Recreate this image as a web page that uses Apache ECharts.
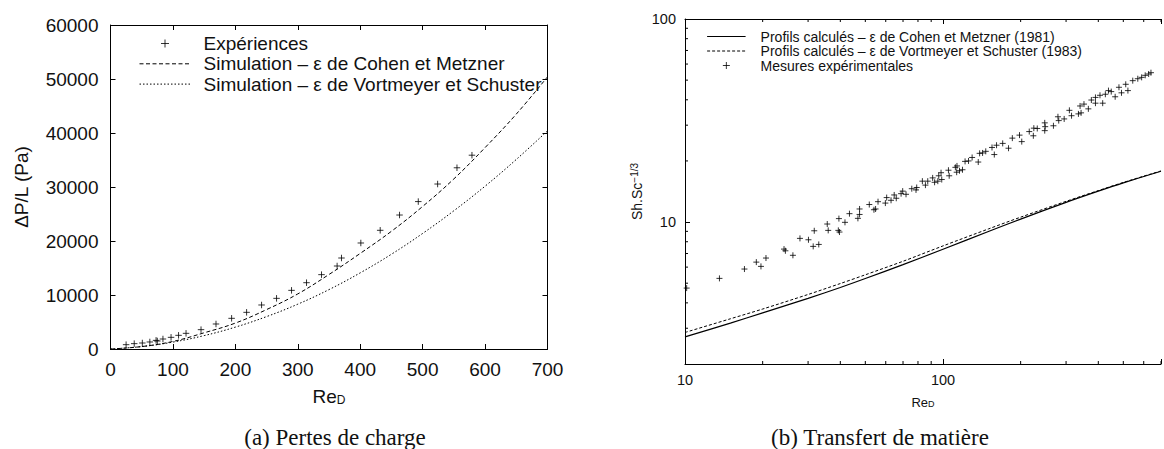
<!DOCTYPE html>
<html>
<head>
<meta charset="utf-8">
<script src="https://cdn.jsdelivr.net/npm/echarts@6/dist/echarts.min.js"></script>
<style>
html,body{margin:0;padding:0;background:#fff;}
#c{width:1164px;height:449px;}
</style>
</head>
<body>
<div id="c"></div>
<script>
// ---------- (a) Pertes de charge ----------
const pdRe    = [0, 50, 100, 150, 200, 250, 300, 350, 400, 450, 500, 550, 600, 650, 700];
const pdCohen = [0, 450, 1400, 3000, 4800, 7300, 10200, 13800, 17700, 21800, 26400, 31500, 37300, 43500, 50400];
const pdVort  = [0, 450, 1280, 2480, 4050, 6000, 8300, 11000, 14100, 17550, 21400, 25600, 30150, 35100, 40400];
const expRe = [25, 38, 51, 63, 73, 75, 84, 97, 109, 121, 145, 169, 194, 218, 242, 266, 290, 314, 338, 363, 370, 401, 432, 463, 493, 524, 555, 579];
const expDP = [800, 990, 1110, 1300, 1600, 1480, 1850, 2160, 2530, 2900, 3580, 4630, 5680, 6790, 8150, 9380, 10860, 12280, 13770, 15370, 16850, 19630, 21980, 24810, 27300, 30550, 33560, 35890];

// ---------- (b) Transfert de matière ----------
const mtRe    = [10, 15, 20, 30, 40, 50, 70, 100, 150, 200, 300, 400, 500, 700];
const mtCohen = [2.72, 3.18, 3.57, 4.21, 4.76, 5.27, 6.17, 7.35, 8.98, 10.34, 12.51, 14.2, 15.6, 17.8];
const mtVort  = [2.86, 3.34, 3.73, 4.40, 4.98, 5.50, 6.41, 7.63, 9.25, 10.57, 12.65, 14.29, 15.67, 17.86];
const measRe = [10.15, 13.6, 17.0, 18.9, 19.7, 20.6, 24.2, 24.5, 26.2, 27.9, 30.1, 31.4, 33.0, 31.7, 35.6, 35.9, 39.3, 39.7, 39.5, 41.7, 43.4,
  46.8, 47.5, 47.5, 51.8, 54.0, 54.8, 56.0, 59.8, 60.5, 62.9, 64.7, 65.9, 68.8, 69.8, 71.9, 75.7, 78.6, 79.1, 83.2, 85.5, 87.3, 91.2, 92.8, 95.5, 96.3, 98.3, 98.9,
  105, 105.7, 111.7, 113.3, 113.0, 115.9, 119, 121.8, 125.6, 129.7, 137, 138.7, 142.4, 146.5, 154.9, 158.1, 161.3, 170.4, 179.5,
  185.7, 198, 202, 216, 225, 224, 232, 248, 249, 248, 268, 279, 281, 295, 309, 315, 335, 343, 340, 352, 366, 376, 390, 390, 406, 416, 426, 438, 449, 465, 481, 492, 511, 521, 544, 569, 589, 608, 627, 640];
const measSh = [4.73, 5.28, 5.87, 6.35, 6.05, 6.65, 7.36, 7.22, 6.86, 8.31, 8.18, 7.59, 7.76, 9.06, 9.78, 9.10, 9.10, 8.93, 10.4, 9.97, 11.0,
  10.43, 10.9, 11.6, 12.2, 11.5, 11.6, 12.6, 12.4, 13.2, 12.8, 13.6, 13.1, 13.8, 14.2, 13.7, 14.6, 14.4, 14.8, 15.9, 15.2, 15.9, 16.5, 15.7, 15.9, 16.9, 17.5, 16.2,
  18.0, 16.9, 18.6, 18.9, 17.6, 17.9, 18.1, 19.9, 20.0, 20.8, 19.75, 21.8, 21.9, 22.3, 23.3, 21.5, 23.9, 24.4, 23.1,
  25.9, 26.8, 24.9, 27.9, 29.0, 26.6, 28.9, 30.8, 29.5, 28.2, 29.8, 33.0, 31.6, 32.2, 35.5, 33.4, 34.1, 34.5, 37.3, 38.1, 36.1, 39.9, 38.5, 41.1, 42.1, 38.5, 42.6, 44.4, 43.9, 41.4, 46.1, 43.3, 47.7, 44.4, 49.7, 50.8, 51.6, 52.8, 53.6, 54.4];

// tick values
const decadeLabels = [10, 100];
const minorTicksX = [20, 30, 40, 50, 60, 70, 80, 90, 200, 300, 400, 500, 600, 700];
const minorTicksY = [3, 4, 5, 6, 7, 8, 9, 20, 30, 40, 50, 60, 70, 80, 90];

const LEG_A = ['Expériences', 'Simulation – ε de Cohen et Metzner', 'Simulation – ε de Vortmeyer et Schuster'];
const LEG_B = ['Profils calculés – ε de Cohen et Metzner (1981)', 'Profils calculés – ε de Vortmeyer et Schuster (1983)', 'Mesures expérimentales'];

const FONT = 'Liberation Sans';
const INK = '#000';
const PLUS = 'path://M0,-5L0,5M-5,0L5,0';
const NOSYM = {color: 'rgba(0,0,0,0)', borderColor: 'rgba(0,0,0,0)', borderWidth: 0};
const zip = (a, b) => a.map((v, i) => [v, b[i]]);
const decFmt = v => {
  const r = Math.round(v);
  return (Math.abs(v - r) < 1e-6 && decadeLabels.indexOf(r) >= 0) ? String(r) : '';
};

const chart = echarts.init(document.getElementById('c'), null, {renderer: 'svg'});

const axA = (pos, show) => ({
  gridIndex: 0, type: 'value', position: pos,
  axisLine: {show: true, onZero: false, lineStyle: {color: INK, width: 1}},
  axisTick: {show: true, inside: true, length: 5, lineStyle: {color: INK, width: 1}},
  axisLabel: {show: show, fontSize: 19, fontFamily: FONT, color: '#111', formatter: v => String(v)},
  splitLine: {show: false}
});
const axB = (pos, show) => ({
  gridIndex: 1, type: 'log', logBase: 10, position: pos,
  axisLine: {show: true, onZero: false, lineStyle: {color: INK, width: 1}},
  axisTick: {show: true, inside: true, length: 5, lineStyle: {color: INK, width: 1}},
  axisLabel: {show: show, fontSize: 14.5, fontFamily: FONT, color: '#111', formatter: decFmt, showMinLabel: true, showMaxLabel: true},
  splitLine: {show: false}, minorTick: {show: false}
});

const xa0 = Object.assign(axA('bottom', true), {min: 0, max: 700, interval: 100,
  name: '{b|Re}{s|D}', nameLocation: 'middle', nameGap: 37,
  nameTextStyle: {rich: {
    b: {fontSize: 19, fontFamily: FONT, color: '#111', lineHeight: 19, verticalAlign: 'top'},
    s: {fontSize: 12, fontFamily: FONT, color: '#111', lineHeight: 12, padding: [10, 0, 0, 0], verticalAlign: 'bottom'}}}
});
xa0.axisLabel.margin = 11;
const xa1 = Object.assign(axA('top', false), {min: 0, max: 700, interval: 100});
const ya0 = Object.assign(axA('left', true), {min: 0, max: 60000, interval: 10000,
  name: 'ΔP/L (Pa)', nameLocation: 'middle', nameGap: 80, nameRotate: 90,
  nameTextStyle: {fontSize: 19, fontFamily: FONT, color: '#111'}});
ya0.axisLabel.margin = 12;
const ya1 = Object.assign(axA('right', false), {min: 0, max: 60000, interval: 10000});

const xb0 = Object.assign(axB('bottom', true), {min: 10, max: 700,
  name: '{b|Re}{s|D}', nameLocation: 'middle', nameGap: 28,
  nameTextStyle: {rich: {
    b: {fontSize: 13, fontFamily: FONT, color: '#111', lineHeight: 13, verticalAlign: 'top'},
    s: {fontSize: 9, fontFamily: FONT, color: '#111', lineHeight: 9, padding: [8, 0, 0, 0], verticalAlign: 'bottom'}}}
});
xb0.axisLabel.margin = 8;
const xb1 = Object.assign(axB('top', false), {min: 10, max: 700});
const yb0 = Object.assign(axB('left', true), {min: 2, max: 100,
  name: '{b|Sh.Sc}{s|−1/3}', nameLocation: 'middle', nameGap: 40, nameRotate: 90,
  nameTextStyle: {rich: {
    b: {fontSize: 14, fontFamily: FONT, color: '#111', lineHeight: 14, verticalAlign: 'bottom'},
    s: {fontSize: 10, fontFamily: FONT, color: '#111', lineHeight: 10, padding: [0, 0, 8, 0], verticalAlign: 'top'}}}
});
yb0.axisLabel.margin = 9;

function minorXItem(params, api) {
  const p = api.coord([api.value(0), api.value(1)]);
  const cs = params.coordSys;
  const yb = cs.y + cs.height;
  return {type: 'group', children: [
    {type: 'line', shape: {x1: p[0], y1: yb, x2: p[0], y2: yb - 3}, style: {stroke: INK, lineWidth: 1}},
    {type: 'line', shape: {x1: p[0], y1: cs.y, x2: p[0], y2: cs.y + 3}, style: {stroke: INK, lineWidth: 1}}
  ]};
}
function minorYItem(params, api) {
  const p = api.coord([api.value(0), api.value(1)]);
  const cs = params.coordSys;
  return {type: 'line', shape: {x1: cs.x, y1: p[1], x2: cs.x + 3, y2: p[1]}, style: {stroke: INK, lineWidth: 1}};
}

chart.setOption({
  animation: false,
  textStyle: {fontFamily: FONT},
  grid: [
    {left: 110.5, top: 25, width: 437, height: 324},
    {left: 685, top: 19, width: 489, height: 345}
  ],
  xAxis: [xa0, xa1, xb0, xb1],
  yAxis: [ya0, ya1, yb0],
  legend: [
    {data: [
       {name: LEG_A[0]},
       {name: LEG_A[1], itemStyle: NOSYM, lineStyle: {width: 1}},
       {name: LEG_A[2], itemStyle: NOSYM, lineStyle: {width: 1}}],
     left: 134, top: 29, orient: 'vertical', itemWidth: 51, itemHeight: 8, itemGap: 1.3,
     selectedMode: false, itemStyle: {borderWidth: 1},
     textStyle: {fontSize: 19, fontFamily: FONT, color: '#111', padding: [0, 0, 0, 8]}},
    {data: [
       {name: LEG_B[0], itemStyle: NOSYM, lineStyle: {width: 1.2}},
       {name: LEG_B[1], itemStyle: NOSYM, lineStyle: {width: 1}},
       {name: LEG_B[2]}],
     left: 701.5, top: 24.5, orient: 'vertical', itemWidth: 38.5, itemHeight: 7, itemGap: 0.5,
     selectedMode: false, itemStyle: {borderWidth: 1},
     textStyle: {fontSize: 14, fontFamily: FONT, color: '#111', padding: [0, 0, 0, 10]}}
  ],
  series: [
    {name: LEG_A[0], type: 'scatter', xAxisIndex: 0, yAxisIndex: 0, data: zip(expRe, expDP),
     symbol: PLUS, symbolSize: 6.5, itemStyle: {color: 'rgba(0,0,0,0)', borderColor: INK, borderWidth: 1}},
    {name: LEG_A[1], type: 'line', xAxisIndex: 0, yAxisIndex: 0, data: zip(pdRe, pdCohen), smooth: 0.4,
     symbol: 'none', lineStyle: {color: INK, width: 1, type: [4, 2.5]}},
    {name: LEG_A[2], type: 'line', xAxisIndex: 0, yAxisIndex: 0, data: zip(pdRe, pdVort), smooth: 0.4,
     symbol: 'none', lineStyle: {color: INK, width: 1, type: [1.5, 2]}},
    {name: LEG_B[0], type: 'line', xAxisIndex: 2, yAxisIndex: 2, data: zip(mtRe, mtCohen), smooth: 0.3,
     symbol: 'none', lineStyle: {color: INK, width: 1.2, type: 'solid'}},
    {name: LEG_B[1], type: 'line', xAxisIndex: 2, yAxisIndex: 2, data: zip(mtRe, mtVort), smooth: 0.3,
     symbol: 'none', lineStyle: {color: INK, width: 1, type: [3, 2]}},
    {name: LEG_B[2], type: 'scatter', xAxisIndex: 2, yAxisIndex: 2, data: zip(measRe, measSh),
     symbol: PLUS, symbolSize: 6, itemStyle: {color: 'rgba(0,0,0,0)', borderColor: INK, borderWidth: 1}},
    {type: 'custom', xAxisIndex: 2, yAxisIndex: 2, silent: true, renderItem: minorXItem,
     data: minorTicksX.map(v => [v, 2])},
    {type: 'custom', xAxisIndex: 2, yAxisIndex: 2, silent: true, renderItem: minorYItem,
     data: minorTicksY.map(v => [10, v])}
  ],
  graphic: [
    {type: 'text', x: 335, y: 437, silent: true,
     style: {text: '(a) Pertes de charge', font: '23px "Liberation Serif"', fill: '#111', textAlign: 'center', textVerticalAlign: 'middle'}},
    {type: 'text', x: 880, y: 437, silent: true,
     style: {text: '(b) Transfert de matière', font: '23px "Liberation Serif"', fill: '#111', textAlign: 'center', textVerticalAlign: 'middle'}}
  ]
});
</script>
</body>
</html>
